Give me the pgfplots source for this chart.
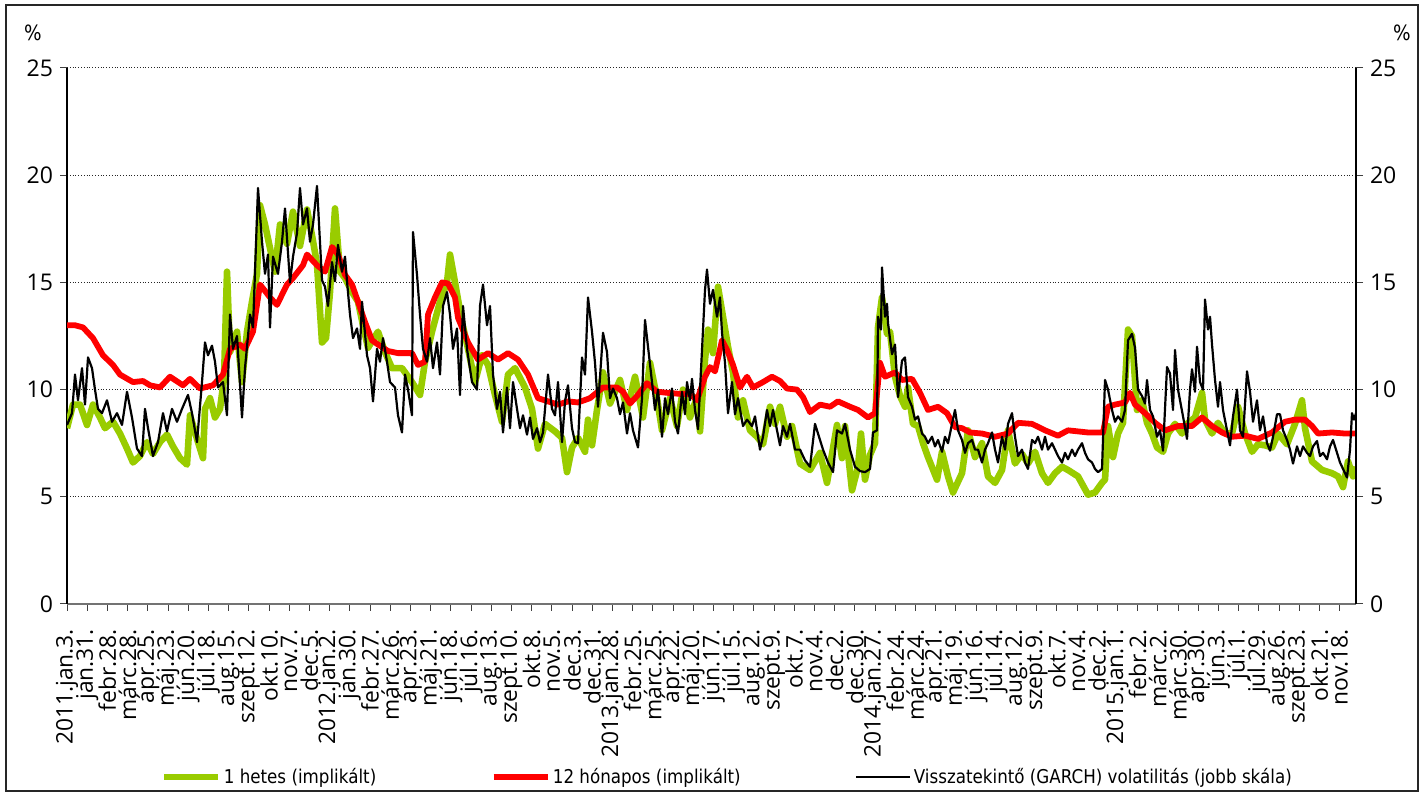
\documentclass[border=0pt]{standalone}
\usepackage{fontspec}
\setmainfont{Open Sans}
\newfontfamily\legfont[FakeStretch=0.88]{DejaVu Sans}
\usepackage{pgfplots}
\pgfplotsset{compat=1.18}
\usepackage{pgfplotstable}
\definecolor{cgreen}{HTML}{99CC00}
\definecolor{cred}{HTML}{FF0000}

% x = position on the date axis (first trading day = 67, one tick = 20.2 units = 20 trading days)
\pgfplotstableread{
x y
67 8.2
73 9.3
80 9.3
87 8.35
93 9.3
100 8.7
105 8.2
113 8.5
120 7.95
127 7.25
133 6.6
140 6.9
147 7.55
153 7.0
160 7.55
167 7.9
173 7.35
180 6.8
187 6.5
190 8.8
197 7.7
203 6.8
205 9.1
210 9.6
215 8.7
220 9.1
224 10.5
227 15.5
230 11.75
237 12.7
242 10.35
247 12.7
252 14.1
257 15.4
260 18.6
265 17.7
270 16.6
275 15.5
280 17.7
287 16.8
293 18.3
300 16.7
307 18.4
312 17.2
317 15.85
322 12.2
326 12.4
330 14.55
335 18.45
340 15.5
345 15.2
352 14.55
358 14.1
363 13.0
368 11.95
378 12.7
385 11.75
392 11.0
402 11.0
412 10.35
420 9.75
425 11.3
432 12.7
440 14.1
447 15.0
450 16.3
455 15.0
462 13.15
468 11.9
475 10.35
482 11.6
488 11.15
495 9.75
502 8.5
508 10.7
515 11.0
525 10.1
532 9.1
538 7.25
545 8.4
555 8.05
562 7.75
567 6.15
572 7.3
578 7.75
585 7.1
588 8.6
592 7.4
597 9.05
603 10.8
610 9.35
620 10.45
627 9.05
635 10.6
643 8.7
650 11.25
657 9.6
662 8.1
670 9.6
677 8.3
683 10.0
690 8.7
697 9.65
700 8.05
705 11.4
708 12.8
713 11.7
718 14.8
723 13.4
728 12.0
733 10.8
738 8.7
743 9.5
750 8.1
757 7.8
763 7.45
770 9.2
775 8.4
780 9.2
787 7.8
792 8.3
800 6.55
810 6.25
820 7.05
827 5.65
837 8.35
842 6.8
845 8.3
852 5.3
858 6.4
861 7.95
865 5.8
870 6.95
875 7.5
878 12.9
882 14.3
887 12.6
890 12.7
895 10.6
900 9.7
905 9.2
908 10.1
913 8.4
918 8.3
923 7.5
928 6.85
937 5.8
942 7.1
948 5.95
953 5.2
962 6.1
968 8.1
975 6.85
982 7.5
988 5.95
995 5.65
1002 6.25
1008 8.1
1015 6.55
1022 7.0
1028 6.55
1035 7.1
1042 6.1
1048 5.65
1055 6.1
1062 6.4
1068 6.25
1078 5.95
1088 5.1
1095 5.2
1102 5.65
1105 5.8
1108 8.3
1113 6.85
1118 7.95
1123 8.45
1128 12.8
1132 12.5
1137 9.05
1142 9.5
1147 8.45
1152 7.95
1157 7.3
1163 7.1
1168 7.95
1175 8.4
1182 7.95
1188 8.45
1195 8.7
1202 9.85
1205 8.6
1212 7.95
1218 8.45
1225 7.95
1232 7.95
1238 9.2
1245 7.95
1252 7.1
1258 7.45
1265 7.4
1272 7.3
1278 7.95
1287 7.45
1295 8.4
1302 9.5
1305 8.2
1312 6.65
1322 6.25
1332 6.1
1338 5.95
1343 5.45
1348 6.65
1353 5.95
1356 6.4
}\tabgreen

\pgfplotstableread{
x y
67 13.0
75 13.0
83 12.9
93 12.4
103 11.6
113 11.15
120 10.7
133 10.35
143 10.4
150 10.2
160 10.1
170 10.6
183 10.2
190 10.5
200 10.05
213 10.2
223 10.7
230 11.9
240 12.1
245 11.9
253 12.7
260 14.9
270 14.3
277 13.95
287 14.9
293 15.2
303 15.8
307 16.3
317 15.8
325 15.5
332 16.65
338 16.3
345 15.35
352 14.9
358 14.1
365 13.15
372 12.3
378 12.1
388 11.8
398 11.7
412 11.7
418 11.15
425 11.3
428 13.5
435 14.3
442 15.0
448 14.95
455 14.3
458 13.35
468 12.2
478 11.4
488 11.7
498 11.4
508 11.7
518 11.4
528 10.7
538 9.6
548 9.45
558 9.3
568 9.45
578 9.4
590 9.6
603 10.1
617 10.1
623 9.9
630 9.35
637 9.7
647 10.3
657 9.9
667 9.85
680 9.8
690 9.8
697 9.5
705 10.6
710 11.05
715 10.85
722 12.3
727 11.85
733 11.15
740 10.1
747 10.6
753 10.1
763 10.35
772 10.6
780 10.4
787 10.05
797 10.0
803 9.65
810 8.95
820 9.3
830 9.2
838 9.45
850 9.2
858 9.05
868 8.7
875 8.9
880 11.25
885 10.6
895 10.8
902 10.45
912 10.5
920 9.85
928 9.05
938 9.2
947 8.9
955 8.25
962 8.2
970 8.0
982 7.95
995 7.8
1008 7.95
1018 8.45
1032 8.4
1045 8.1
1058 7.85
1068 8.1
1088 8.0
1103 8.0
1108 9.2
1115 9.3
1125 9.4
1130 9.85
1135 9.3
1145 8.9
1155 8.45
1165 8.1
1178 8.3
1192 8.3
1202 8.7
1212 8.3
1222 8.0
1232 7.8
1245 7.85
1258 7.7
1272 8.0
1285 8.5
1295 8.6
1305 8.6
1312 8.3
1318 7.95
1332 8.0
1345 7.95
1356 7.95
}\tabred

\pgfplotstableread{
x y
67 8.35
72 8.9
75 10.7
78 9.5
82 11.0
85 9.3
88 11.5
92 11.0
95 10.0
98 9.1
102 8.9
107 9.5
112 8.5
117 8.9
122 8.35
127 9.9
132 8.7
137 7.25
142 6.9
145 9.1
148 8.2
153 6.9
158 7.55
163 8.9
167 8.05
172 9.1
177 8.5
182 9.1
188 9.75
192 8.9
197 7.55
202 10.35
205 12.2
208 11.6
212 12.05
215 11.3
218 10.1
223 10.35
227 8.8
230 13.5
233 11.9
237 12.5
242 8.7
245 11.0
250 13.5
253 12.9
258 19.4
262 16.9
265 15.4
268 16.3
270 12.9
273 16.2
278 15.4
282 16.9
285 18.45
290 15.0
293 16.2
297 17.3
300 19.4
303 17.7
307 18.45
310 16.9
313 17.7
317 19.5
322 15.1
325 14.8
328 13.9
332 15.95
335 15.05
338 16.75
342 15.5
345 16.2
347 15.05
350 13.5
353 12.4
357 12.85
360 11.9
362 14.1
367 11.6
370 11.0
373 9.45
377 11.9
380 11.3
383 12.4
387 11.3
390 10.35
395 10.1
398 8.8
402 8.0
405 10.7
408 10.0
412 8.8
413 17.35
417 15.35
420 13.5
423 11.9
427 11.3
430 12.4
433 11.0
437 12.2
440 10.7
443 13.9
447 14.55
450 13.5
453 11.9
457 12.85
460 9.75
463 13.9
467 11.9
472 10.35
477 10.0
480 13.9
483 14.9
487 13.0
490 13.9
493 10.7
497 9.1
500 9.9
503 8.0
507 10.1
510 8.2
513 10.35
517 9.1
520 8.2
523 8.8
527 7.9
530 8.7
533 7.7
537 8.2
540 7.55
543 8.0
548 10.7
552 9.1
555 8.8
558 10.35
562 7.55
565 9.45
568 10.2
572 8.2
575 7.55
578 7.5
582 11.5
585 10.7
588 14.3
592 12.7
595 11.25
598 9.2
603 12.65
607 11.75
610 9.6
613 10.05
617 9.6
620 8.85
623 9.4
627 7.95
630 8.9
633 8.1
638 7.3
642 9.6
645 13.25
648 12.0
652 10.35
655 9.05
658 10.0
662 7.8
665 9.6
668 8.85
672 10.05
675 8.5
678 7.95
682 9.9
685 8.85
687 10.35
690 9.5
692 10.5
695 9.05
698 8.15
702 11.85
705 14.65
707 15.6
710 14.0
713 14.65
717 13.4
720 14.3
722 12.65
725 11.25
728 8.9
732 10.35
735 8.85
738 9.6
743 8.3
747 8.6
752 8.3
755 8.75
760 7.2
763 7.8
767 9.05
770 8.3
773 9.05
777 8.1
780 7.4
783 8.3
787 7.8
790 8.4
795 7.2
800 7.2
805 6.7
810 6.4
815 8.4
818 7.95
823 7.2
828 6.6
833 6.15
837 8.1
842 7.95
845 8.4
850 7.2
855 6.4
860 6.2
865 6.15
870 6.3
873 8.0
877 8.1
878 13.4
881 12.8
882 15.7
885 13.4
887 14.0
888 13.1
892 11.65
895 12.1
898 9.65
902 11.35
905 11.5
908 9.65
912 9.2
915 8.6
918 8.75
922 7.95
925 7.8
928 7.5
932 7.8
935 7.35
938 7.65
942 7.1
945 7.8
948 7.5
952 8.4
955 9.05
958 8.1
962 7.65
965 7.05
968 7.5
972 7.65
975 7.2
978 7.2
982 6.6
985 7.2
988 7.5
992 8.0
995 7.2
998 6.6
1002 7.8
1005 7.2
1008 8.4
1012 8.9
1015 7.8
1018 6.9
1022 7.2
1025 6.6
1028 6.3
1032 7.65
1035 7.5
1038 7.8
1042 7.2
1045 7.8
1048 7.2
1052 7.5
1055 7.2
1058 6.9
1062 6.6
1065 7.05
1068 6.75
1072 7.2
1075 6.9
1078 7.2
1082 7.5
1085 7.05
1088 6.75
1092 6.6
1095 6.3
1098 6.15
1102 6.3
1105 10.45
1108 10.0
1112 9.05
1115 8.5
1118 8.75
1122 8.5
1125 9.05
1128 12.3
1132 12.6
1135 11.95
1138 10.0
1142 9.7
1145 9.35
1147 10.45
1150 9.05
1153 8.75
1157 7.8
1160 8.1
1163 7.15
1167 11.05
1170 10.75
1173 9.05
1175 11.85
1178 10.0
1183 8.75
1187 7.7
1190 10.0
1192 10.95
1195 9.9
1197 12.0
1200 10.35
1203 10.0
1205 14.2
1208 12.8
1210 13.4
1212 12.1
1215 10.45
1218 9.2
1220 10.35
1223 9.05
1227 8.1
1230 7.4
1233 8.75
1237 10.0
1240 8.1
1243 7.8
1247 10.85
1250 9.9
1253 8.5
1257 9.5
1260 8.1
1263 8.75
1267 7.5
1270 7.15
1273 7.8
1277 8.85
1280 8.85
1283 8.1
1287 7.65
1290 7.2
1293 6.55
1297 7.35
1300 6.9
1303 7.35
1307 7.05
1310 6.9
1313 7.35
1317 7.6
1320 6.9
1323 7.05
1327 6.75
1330 7.35
1333 7.65
1337 7.05
1340 6.6
1343 6.3
1347 5.9
1350 7.2
1352 8.9
1354 8.6
1356 8.9
}\tabblack

\begin{document}
\begin{tikzpicture}
\useasboundingbox (0,0) rectangle (711pt,397.5pt);
\draw[black!85, line width=0.6pt] (3pt,2pt) rectangle (709pt,395pt);
\node[font=\legfont\fontsize{10.5}{12}\selectfont] at (16.5pt,381pt) {\%};
\node[font=\legfont\fontsize{10.5}{12}\selectfont] at (701pt,381pt) {\%};
\begin{axis}[
  at={(33.5pt,95.5pt)}, anchor=south west, scale only axis,
  width=644.5pt, height=268pt,
  xmin=67, xmax=1356, ymin=0, ymax=25,
  axis x line*=bottom, axis y line*=left,
  x axis line style={-, black!55, line width=0.8pt},
  y axis line style={-, black, line width=0.7pt},
  xtick={67,87.2,...,1340},
  xticklabels={2011.jan.3.,jan.31.,febr.28.,márc.28.,ápr.25.,máj.23.,jún.20.,júl.18.,aug.15.,szept.12.,okt.10.,nov.7.,dec.5.,2012.jan.2.,jan.30.,febr.27.,márc.26.,ápr.23.,máj.21.,jún.18.,júl.16.,aug.13.,szept.10.,okt.8.,nov.5.,dec.3.,dec.31.,2013.jan.28.,febr.25.,márc.25.,ápr.22.,máj.20.,jún.17.,júl.15.,aug.12.,szept.9.,okt.7.,nov.4.,dec.2.,dec.30.,2014.jan.27.,febr.24.,márc.24.,ápr.21.,máj.19.,jún.16.,júl.14.,aug.12.,szept.9.,okt.7.,nov.4.,dec.2.,2015.jan.1.,febr.2.,márc.2.,márc.30.,ápr.30.,jún.3.,júl.1.,júl.29.,aug.26.,szept.23.,okt.21.,nov.18.},
  xticklabel style={yshift=-5.5pt, rotate=90, anchor=east, font=\fontsize{11.4}{12}\selectfont},
  ytick={0,5,...,25},
  yticklabel style={font=\fontsize{11.5}{13}\selectfont},
  tick align=outside, major tick length=3.5pt,
  tick style={black!75, line width=0.5pt},
  ymajorgrids, grid style={densely dotted, black!85, line width=0.5pt},
  /pgf/number format/assume math mode=true,
  legend columns=3,
  legend style={at={(0.5,0)}, anchor=center, yshift=-86.5pt, xshift=8pt,
    draw=none, fill=none, inner sep=0pt,
    font=\legfont\fontsize{9.5}{12}\selectfont,
    nodes={inner sep=1.2pt},
    /tikz/every even column/.append style={column sep=56pt}},
  legend image code/.code={\draw[#1] (0pt,0pt) -- (27pt,0pt);},
]
\addplot[cgreen, line width=3.3pt, line join=round] table[x=x,y=y] {\tabgreen};
\addlegendentry{1 hetes (implikált)}
\addplot[cred, line width=2.9pt, line join=round] table[x=x,y=y] {\tabred};
\addlegendentry{12 hónapos (implikált)}
\addlegendimage{black, line width=1.2pt}
\addlegendentry{Visszatekintő (GARCH) volatilitás (jobb skála)}
\end{axis}
\begin{axis}[
  at={(33.5pt,95.5pt)}, anchor=south west, scale only axis,
  width=644.5pt, height=268pt,
  xmin=67, xmax=1356, ymin=0, ymax=25,
  axis x line=none, axis y line*=right,
  y axis line style={-, black, line width=0.7pt},
  ytick={0,5,...,25},
  yticklabel style={font=\fontsize{11.5}{13}\selectfont},
  tick align=outside, major tick length=3.5pt,
  tick style={black!75, line width=0.5pt},
  /pgf/number format/assume math mode=true,
]
\addplot[black, line width=1.1pt, line join=round] table[x=x,y=y] {\tabblack};
\end{axis}
\end{tikzpicture}
\end{document}
